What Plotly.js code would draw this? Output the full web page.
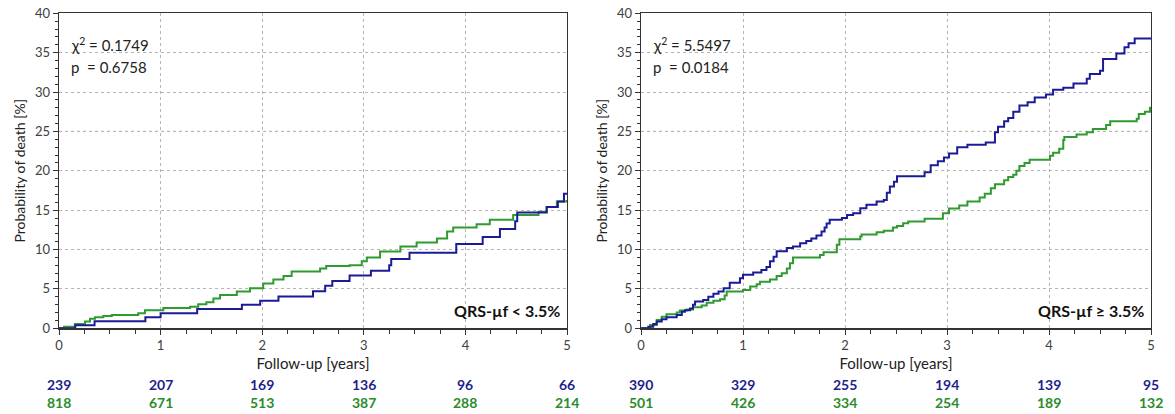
<!DOCTYPE html>
<html>
<head>
<meta charset="utf-8">
<script src="https://cdn.plot.ly/plotly-3.0.1.min.js"></script>
<style>html,body{margin:0;padding:0;background:#fff}#chart{width:1175px;height:414px}</style>
</head>
<body>
<div id="chart"></div>
<script>
// ---- data ----
const yearTicks = [0, 1, 2, 3, 4, 5];

// Left panel: QRS-µf < 3.5%
const leftBlueT = [0, 0.16, 0.35, 0.85, 1.0, 1.36, 1.80, 1.98, 2.16, 2.50, 2.62, 2.69, 2.86, 3.07, 3.25, 3.27, 3.45, 3.91, 4.17, 4.34, 4.49, 4.51, 4.80, 4.91, 4.97, 5.0];
const leftBlueP = [0, 0.4, 0.9, 1.4, 1.9, 2.45, 3.0, 3.5, 4.05, 4.7, 5.4, 6.0, 6.7, 7.3, 8.0, 8.8, 9.6, 10.7, 11.6, 12.6, 13.6, 14.7, 15.4, 16.1, 17.1, 17.1];
const leftGreenT = [0, 0.05, 0.157, 0.256, 0.305, 0.354, 0.436, 0.52, 0.78, 0.846, 1.027, 1.29, 1.37, 1.45, 1.52, 1.585, 1.75, 1.88, 2.01, 2.11, 2.21, 2.29, 2.57, 2.63, 2.86, 2.98, 3.03, 3.16, 3.36, 3.52, 3.72, 3.82, 3.88, 4.11, 4.24, 4.47, 4.72, 4.80, 4.90, 5.0];
const leftGreenP = [0, 0.2, 0.55, 0.85, 1.2, 1.4, 1.57, 1.7, 1.9, 2.3, 2.58, 2.75, 3.05, 3.3, 3.8, 4.24, 4.66, 5.1, 5.7, 6.2, 6.65, 7.2, 7.6, 7.9, 8.0, 8.5, 9.0, 9.75, 10.4, 10.9, 11.4, 12.3, 12.8, 13.2, 13.8, 14.4, 14.8, 15.4, 16.1, 16.3];
const leftBlueRisk = [239, 207, 169, 136, 96, 66];
const leftGreenRisk = [818, 671, 513, 387, 288, 214];
const leftStats = ["χ<sup>2</sup> = 0.1749", "p  = 0.6758"];
const leftLabel = "QRS-µf < 3.5%";

// Right panel: QRS-µf ≥ 3.5%
const rightBlueT = [0, 0.072, 0.12, 0.154, 0.203, 0.25, 0.35, 0.40, 0.43, 0.48, 0.51, 0.53, 0.61, 0.66, 0.71, 0.76, 0.81, 0.87, 0.97, 1.0, 1.10, 1.18, 1.23, 1.265, 1.30, 1.33, 1.43, 1.49, 1.56, 1.62, 1.67, 1.72, 1.77, 1.80, 1.82, 1.85, 1.97, 2.02, 2.08, 2.15, 2.21, 2.31, 2.38, 2.41, 2.44, 2.48, 2.51, 2.78, 2.84, 2.91, 2.97, 3.02, 3.10, 3.20, 3.38, 3.47, 3.50, 3.56, 3.60, 3.65, 3.71, 3.79, 3.86, 3.97, 4.04, 4.14, 4.24, 4.37, 4.40, 4.50, 4.53, 4.66, 4.74, 4.78, 4.84, 5.0];
const rightBlueP = [0, 0.2, 0.55, 0.85, 1.14, 1.4, 1.7, 2.1, 2.3, 2.5, 3.0, 3.4, 3.6, 4.0, 4.4, 4.66, 5.1, 5.8, 6.36, 6.8, 7.1, 7.4, 7.8, 8.5, 9.1, 9.8, 10.2, 10.4, 10.8, 11.1, 11.4, 11.8, 12.3, 12.8, 13.3, 13.8, 14.0, 14.4, 14.6, 15.25, 15.7, 16.1, 16.3, 17.2, 18.0, 18.6, 19.3, 19.8, 20.7, 21.2, 21.7, 22.2, 23.0, 23.3, 23.6, 24.9, 25.6, 26.3, 26.7, 27.5, 28.3, 28.7, 29.3, 29.7, 30.3, 30.55, 31.1, 31.7, 32.3, 32.7, 34.2, 34.9, 35.7, 36.2, 36.8, 36.8];
const rightGreenT = [0, 0.088, 0.154, 0.203, 0.25, 0.35, 0.38, 0.448, 0.51, 0.595, 0.644, 0.71, 0.775, 0.82, 0.84, 1.0, 1.07, 1.134, 1.166, 1.265, 1.33, 1.38, 1.43, 1.46, 1.49, 1.755, 1.79, 1.92, 1.945, 2.15, 2.163, 2.31, 2.38, 2.47, 2.51, 2.57, 2.62, 2.78, 2.96, 3.02, 3.12, 3.20, 3.32, 3.37, 3.43, 3.47, 3.56, 3.60, 3.65, 3.68, 3.71, 3.76, 3.81, 4.01, 4.04, 4.10, 4.14, 4.15, 4.27, 4.37, 4.43, 4.56, 4.60, 4.86, 4.88, 4.94, 4.99, 5.0];
const rightGreenP = [0, 0.42, 1.06, 1.48, 1.78, 2.0, 2.25, 2.4, 2.67, 2.9, 3.26, 3.5, 3.7, 4.15, 4.66, 4.87, 5.3, 5.6, 5.9, 6.2, 6.65, 7.0, 7.6, 8.26, 9.0, 9.3, 9.66, 10.6, 11.3, 11.65, 11.9, 12.2, 12.4, 12.8, 13.0, 13.35, 13.56, 13.9, 14.6, 15.2, 15.6, 16.1, 16.6, 17.1, 17.8, 18.3, 18.8, 19.2, 19.5, 20.0, 20.6, 21.0, 21.4, 21.9, 22.3, 22.8, 23.9, 24.3, 24.6, 24.9, 25.3, 25.8, 26.3, 26.6, 27.2, 27.5, 28.0, 28.0];
const rightBlueRisk = [390, 329, 255, 194, 139, 95];
const rightGreenRisk = [501, 426, 334, 254, 189, 132];
const rightStats = ["χ<sup>2</sup> = 5.5497", "p  = 0.0184"];
const rightLabel = "QRS-µf ≥ 3.5%";

// ---- styles ----
const BLUE = "#1b1b96";
const GREEN = "#2f9a2f";
const FONT = "Lato, 'Open Sans', sans-serif";

function line(t, p, color, xa, ya) {
  return {x: t, y: p, xaxis: xa, yaxis: ya, type: "scatter", mode: "lines",
    line: {shape: "hv", color: color, width: 2}, hoverinfo: "skip", showlegend: false};
}

const data = [
  line(leftGreenT, leftGreenP, GREEN, "x", "y"),
  line(leftBlueT, leftBlueP, BLUE, "x", "y"),
  line(rightGreenT, rightGreenP, GREEN, "x2", "y2"),
  line(rightBlueT, rightBlueP, BLUE, "x2", "y2")
];

function xaxis(domain, anchor) {
  return {domain: domain, anchor: anchor, range: [0, 5], tickvals: yearTicks,
    showgrid: true, gridcolor: "#b5b5b5", griddash: "dot", gridwidth: 1,
    zeroline: false, showline: true, linecolor: "#333", linewidth: 1.3, mirror: true,
    ticks: "outside", ticklen: 5, tickcolor: "#333",
    minor: {dtick: 0.25, ticks: "outside", ticklen: 4, tickcolor: "#333", showgrid: false},
    tickfont: {family: FONT, size: 13, color: "#404040"},
    title: {text: "Follow-up [years]", font: {family: FONT, size: 15, color: "#222"}, standoff: 6}};
}
function yaxis(domain, anchor) {
  return {domain: domain, anchor: anchor, range: [0, 40], dtick: 5,
    showgrid: true, gridcolor: "#b5b5b5", griddash: "dot", gridwidth: 1,
    zeroline: false, showline: true, linecolor: "#333", linewidth: 1.3, mirror: true,
    ticks: "outside", ticklen: 5, tickcolor: "#333",
    minor: {dtick: 1, ticks: "outside", ticklen: 3, tickcolor: "#333", showgrid: false},
    tickfont: {family: FONT, size: 13, color: "#404040"},
    title: {text: "Probability of death [%]", font: {family: FONT, size: 14, color: "#222"}, standoff: 6}};
}

const ann = [];
function panelText(stats, label, risksB, risksG, xa, ya) {
  ann.push({xref: xa, yref: ya, x: 0.1, y: 36.1, text: stats[0], showarrow: false, xanchor: "left",
    font: {family: FONT, size: 15, color: "#222"}});
  ann.push({xref: xa, yref: ya, x: 0.1, y: 33.2, text: stats[1], showarrow: false, xanchor: "left",
    font: {family: FONT, size: 15, color: "#222"}});
  ann.push({xref: xa, yref: ya, x: 4.95, y: 2.3, text: "<b>" + label + "</b>", showarrow: false, xanchor: "right",
    font: {family: FONT, size: 16, color: "#111"}});
  yearTicks.forEach((yr, i) => {
    ann.push({xref: xa, yref: "paper", x: yr, y: 1 - 384 / 414, yanchor: "middle", text: "<b>" + risksB[i] + "</b>", showarrow: false,
      font: {family: FONT, size: 14, color: "#1f1f8c"}});
    ann.push({xref: xa, yref: "paper", x: yr, y: 1 - 402 / 414, yanchor: "middle", text: "<b>" + risksG[i] + "</b>", showarrow: false,
      font: {family: FONT, size: 14, color: "#2a8c2a"}});
  });
}
panelText(leftStats, leftLabel, leftBlueRisk, leftGreenRisk, "x", "y");
panelText(rightStats, rightLabel, rightBlueRisk, rightGreenRisk, "x2", "y2");

const shapes = [
  {type: "line", xref: "x", yref: "y", x0: 0, x1: 5, y0: 25, y1: 25, line: {color: "#555", width: 1, dash: "dot"}, layer: "below"},
  {type: "line", xref: "x2", yref: "y2", x0: 0, x1: 5, y0: 25, y1: 25, line: {color: "#555", width: 1, dash: "dot"}, layer: "below"}
];

const ydom = [1 - 328.3 / 414, 1 - 13.3 / 414];
const layout = {
  width: 1175, height: 414,
  margin: {l: 0, r: 0, t: 0, b: 0},
  paper_bgcolor: "#fff", plot_bgcolor: "#fff",
  font: {family: FONT},
  xaxis: xaxis([59 / 1175, 567 / 1175], "y"),
  yaxis: yaxis(ydom, "x"),
  xaxis2: xaxis([641 / 1175, 1151 / 1175], "y2"),
  yaxis2: yaxis(ydom, "x2"),
  annotations: ann,
  shapes: shapes,
  showlegend: false
};

Plotly.newPlot("chart", data, layout, {displayModeBar: false, staticPlot: true});
</script>
</body>
</html>
